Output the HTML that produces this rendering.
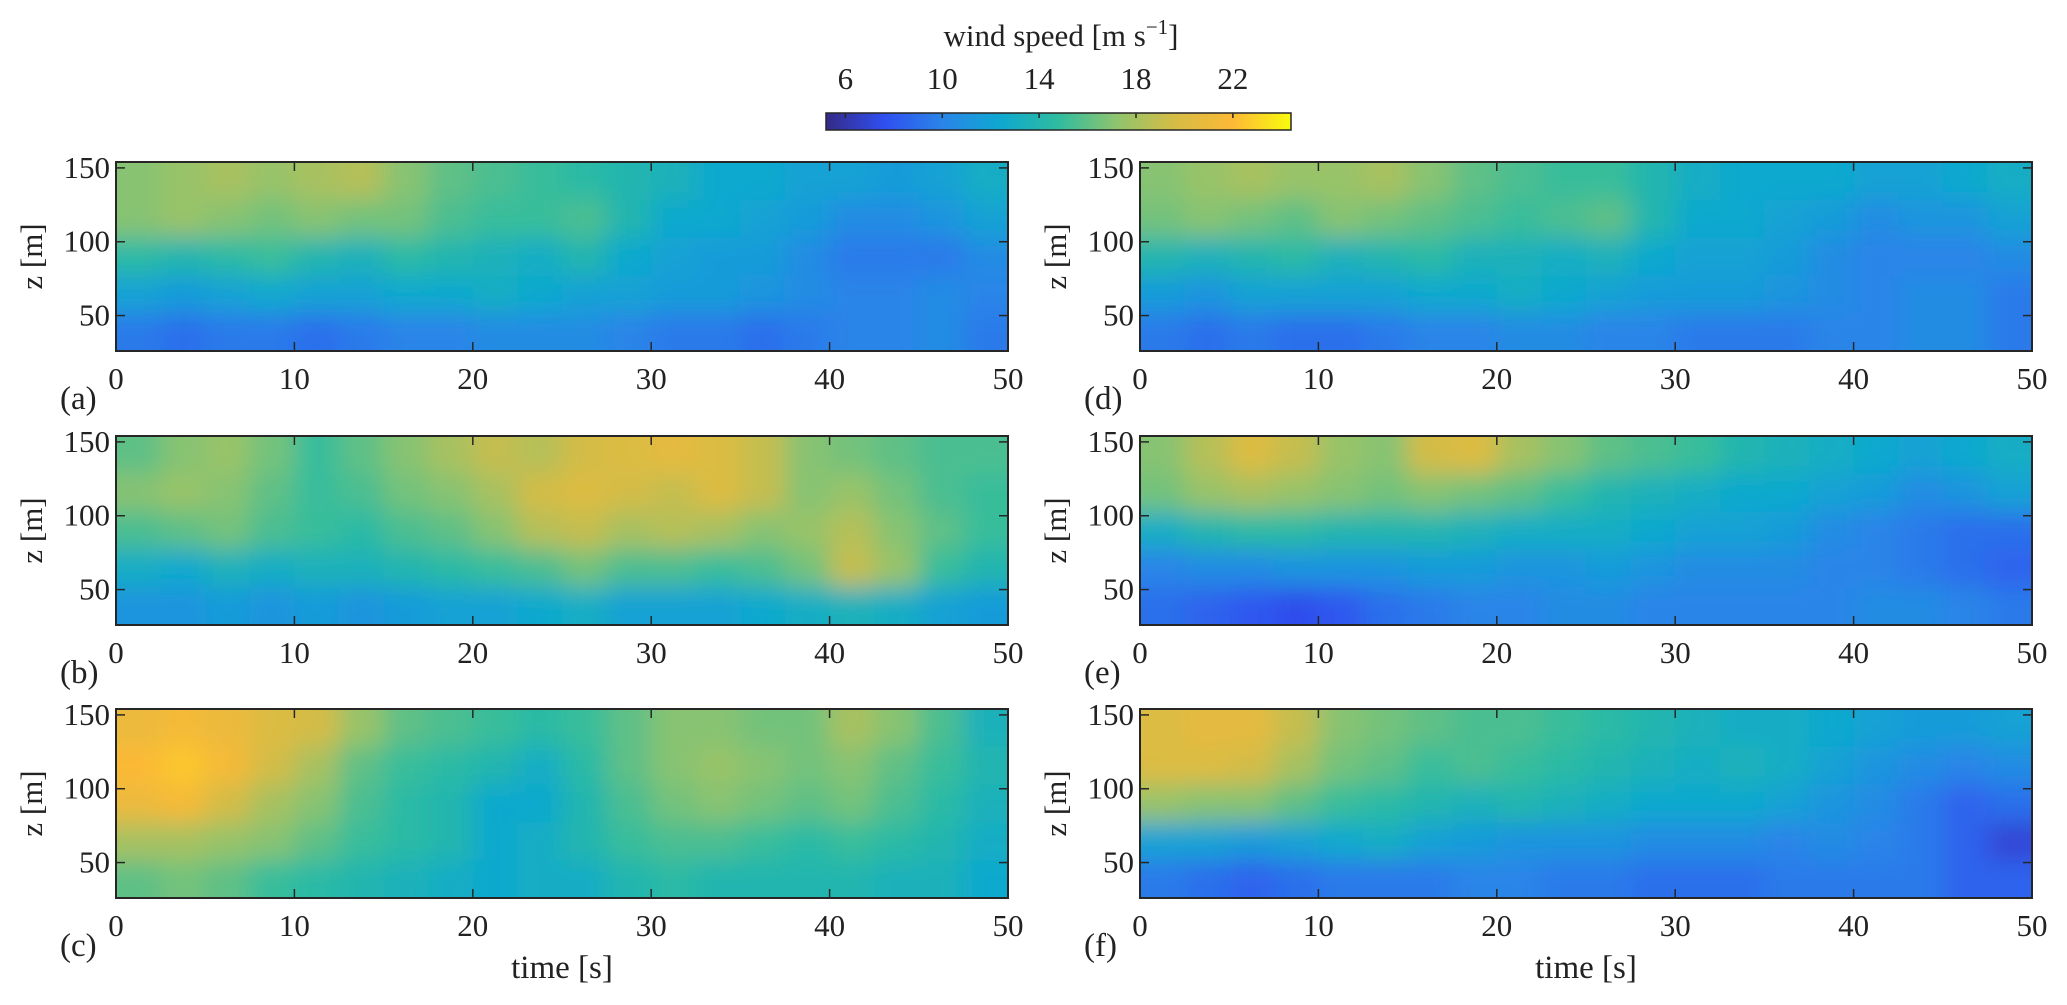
<!DOCTYPE html>
<html><head><meta charset="utf-8"><style>
html,body{margin:0;padding:0;background:#fff;}
svg text{font-family:"Liberation Serif",serif;fill:#222;}
</style></head><body>
<svg id="fig" width="2067" height="1000" viewBox="0 0 2067 1000" xmlns="http://www.w3.org/2000/svg">
<defs>
<filter id="blur" x="-5%" y="-20%" width="110%" height="140%"><feGaussianBlur stdDeviation="12"/></filter>
<linearGradient id="parula" x1="0" x2="1" y1="0" y2="0">
<stop offset="0" stop-color="#352a87"/><stop offset="0.125" stop-color="#2f4ff0"/><stop offset="0.25" stop-color="#2a85e8"/><stop offset="0.375" stop-color="#0ea8d0"/><stop offset="0.5" stop-color="#2fbc9f"/><stop offset="0.625" stop-color="#8fc46e"/><stop offset="0.75" stop-color="#d6bc45"/><stop offset="0.875" stop-color="#fcb936"/><stop offset="1" stop-color="#f9fb0e"/>
</linearGradient>
</defs>
<g id="cbar"></g>
<g id="panels"></g>
</svg>
<script>
const xTicks=[0,10,20,30,40,50];
const zTicks=[50,100,150];
const cbTicks=[6,10,14,18,22];
const cMin=5.2, cMax=24.4;
const zMin=26, zMax=154;
const tMax=50;
const panelA=[[17,17.5,18,17.5,18,18.5,17,16,15.5,15,14.5,14,13.5,12.5,12.5,12,12,11.5,12,13],[17,17.5,17,16.5,17,16.5,16.5,15.5,15,15,15.5,14,12.5,12.5,12,11.5,10.5,10.5,11,12],[14.5,14,14.5,15,14,13.5,14.5,14,13.5,13,14,12.5,12,11.5,11.5,10.5,9.5,9.5,9.5,10.5],[12,11.5,12,12.5,12,12,12.5,12.5,13,12.5,12,12,11.5,11.5,11,10.5,10,10,10.5,10],[9.5,9,9.5,9.5,9,9.5,10,10,10.5,10.5,10.5,10,9.5,9.5,9,9.5,10,10,10.5,9.5]];
const panelB=[[16,17,17.5,16.5,15,16,17,18,19,18.5,19.5,20,20.5,20,19,17,16.5,16,15.5,15.5],[17,17.5,17,16,15,15.5,16.5,17,18,19.5,20,19.5,19,20,19,17,17.5,16.5,15.5,15],[15.5,16,16.5,15.5,15,14.5,15.5,16,17,18.5,19,18,18.5,18,17,17.5,18.5,17,16,15],[13,12.5,13.5,13,13.5,13.5,14,14.5,15,15.5,16.5,15.5,15.5,15,15.5,16.5,19,17.5,15,14],[11,11,11.5,11,11.5,11,11.5,12,12,12.5,13,12,12,12,12.5,13,13.5,13,12,11.5]];
const panelC=[[21,21.5,21,20,19.5,17.5,16,15.5,15,14.5,15,16,17,17,16.5,16.5,18,17,15.5,13.5],[22,22.5,21.5,19.5,18,16,15,14.5,14,13,14.5,16,17,17.5,17,16.5,17,16,15,14],[21,21.5,19.5,18,17,15.5,14.5,14,12.5,12.5,14,15.5,16.5,17,16.5,16,16.5,15.5,14.5,13.5],[18,18,17.5,17,16,15,14.5,14,12.5,13,14,15,15.5,15.5,15,14.5,15,14.5,14,13],[16,16.5,16,15,14.5,14,13.5,13,12.5,13,13,14,14.5,14,14,14,14,13.5,13.5,12.5]];
const panelD=[[17,17.5,18,17.5,17.5,18,17,16,15.5,15,15,14,13,12.5,12.5,12.5,12,12,12.5,13],[16.5,17,16.5,16,17,16.5,16,15.5,15,15.5,16,14,12.5,12.5,12,11.5,10.5,11,11,12],[14,13.5,14,14.5,13.5,14,14.5,13.5,13.5,13,13.5,12.5,12,12,11.5,10.5,10,10,10,10.5],[11.5,11,12,12,12,12,12.5,12.5,13,12.5,12,11.5,11.5,11.5,11,10.5,10,10.5,10.5,9.5],[9.5,9,9.5,9,9,9.5,10,10,10.5,10.5,10,10,9.5,9.5,9.5,10,10,10.5,10.5,9.5]];
const panelE=[[17,18.5,20,19,17.5,17,19.5,20,18,17,16,15.5,15,14,13.5,13,12.5,12,12.5,13],[16.5,17.5,18,17.5,17,16.5,17,16.5,16,15,14,13.5,13,12.5,12.5,12,11.5,10.5,11,12],[13,14,14.5,14.5,14,14,14,13.5,13,13,13,12.5,12,12,11.5,10.5,10,9.5,9,9],[10,10.5,10.5,11,11,11,11.5,11.5,11,11,11.5,11,10.5,10.5,10.5,10,10,9.5,9,8.5],[9,8.5,8,7.5,8,9,9.5,10,10,10.5,10.5,10,10,10,10,10,10.5,10.5,10,9.5]];
const panelF=[[20,20.5,20.5,19,17,16.5,16,15.5,15.5,15,14.5,14,13.5,13,13,12.5,12,11.5,11.5,12],[20,20,19.5,18,16.5,16,15,15.5,15,14.5,14,13.5,13,13.5,13,12,11,10.5,10,10.5],[17.5,17,17,16,15,14.5,14,13.5,14,13.5,13,12.5,12.5,12.5,12,11,10.5,9.5,8.5,9],[12,12,11.5,12,12.5,13,12,11.5,11,11,11,10.5,10.5,10.5,10,10.5,10,9.5,8.5,7],[9.5,9,8.5,9,9.5,9.5,9.5,10,10,9.5,9.5,9,9,9,9.5,9.5,9.5,9.5,8.5,8.5]];

const NS="http://www.w3.org/2000/svg";
const stops=[[0,[53,42,135]],[0.125,[47,79,240]],[0.25,[42,133,232]],[0.375,[14,168,208]],[0.5,[47,188,159]],[0.625,[143,196,110]],[0.75,[214,188,69]],[0.875,[252,185,54]],[1,[249,251,14]]];
function cmap(v){let f=(v-cMin)/(cMax-cMin);f=Math.max(0,Math.min(1,f));
 for(let i=0;i<stops.length-1;i++){if(f<=stops[i+1][0]){const a=stops[i],b=stops[i+1];const t=(f-a[0])/(b[0]-a[0]);
 const c=a[1].map((x,k)=>Math.round(x+(b[1][k]-x)*t));return `rgb(${c[0]},${c[1]},${c[2]})`;}}return 'rgb(249,251,14)';}
function mk(tag,attrs,parent){const e=document.createElementNS(NS,tag);for(const k in attrs)e.setAttribute(k,attrs[k]);if(parent)parent.appendChild(e);return e;}

const panels=[
 {id:'a',data:panelA,x0:116,y0:162,showX:false},
 {id:'b',data:panelB,x0:116,y0:436,showX:false},
 {id:'c',data:panelC,x0:116,y0:709,showX:true},
 {id:'d',data:panelD,x0:1140,y0:162,showX:false},
 {id:'e',data:panelE,x0:1140,y0:436,showX:false},
 {id:'f',data:panelF,x0:1140,y0:709,showX:true}];
const W=892,H=189;
const root=document.getElementById('panels');
panels.forEach(p=>{
 const g=mk('g',{},root);
 
 
 const xs=t=>p.x0+t/tMax*W;
 const zs=z=>p.y0+H-(z-zMin)/(zMax-zMin)*H;
 const cp=mk('clipPath',{id:'clip'+p.id},g);mk('rect',{x:p.x0,y:p.y0,width:W,height:H},cp);
 const hm=mk('g',{'clip-path':'url(#clip'+p.id+')'},g);
 
 
 const bl=mk('g',{filter:'url(#blur)'},hm);
 const rows=p.data.length,cols=p.data[0].length;
 const dz=(zMax-zMin)/rows,dt=tMax/cols;
 p.data.forEach((row,r)=>row.forEach((v,c)=>{
  let xa=xs(c*dt),xb=xs((c+1)*dt),ya=zs(zMax-r*dz),yb=zs(zMax-(r+1)*dz);
  if(c==0)xa-=40;if(c==cols-1)xb+=40;if(r==0)ya-=40;if(r==rows-1)yb+=40;
  const cell=mk('rect',{x:xa,y:ya,width:xb-xa+1,height:yb-ya+1,fill:cmap(v)},bl);
  
  
 }));
 const fr=mk('rect',{x:p.x0,y:p.y0,width:W,height:H,fill:'none',stroke:'#262626','stroke-width':2},g);
 
 
 xTicks.forEach(t=>{const x=xs(t);
  mk('line',{x1:x,x2:x,y1:p.y0+H,y2:p.y0+H-9,stroke:'#262626','stroke-width':1.5},g);
  mk('line',{x1:x,x2:x,y1:p.y0,y2:p.y0+9,stroke:'#262626','stroke-width':1.5},g);
  const tx=mk('text',{x:x,y:p.y0+H+38,'font-size':31,'text-anchor':'middle'},g);tx.textContent=t;
  
  
 });
 zTicks.forEach(z=>{const y=zs(z);
  mk('line',{x1:p.x0,x2:p.x0+9,y1:y,y2:y,stroke:'#262626','stroke-width':1.5},g);
  mk('line',{x1:p.x0+W,x2:p.x0+W-9,y1:y,y2:y,stroke:'#262626','stroke-width':1.5},g);
  const tx=mk('text',{x:p.x0-6,y:y+10,'font-size':31,'text-anchor':'end'},g);tx.textContent=z;
  
  
 });
 const yl=mk('text',{x:0,y:0,'font-size':31,'text-anchor':'middle',transform:`translate(${p.x0-74},${p.y0+H/2}) rotate(-90)`},g);yl.textContent='z [m]';
 
 
 const lab=mk('text',{x:p.x0-56,y:p.y0+H+58,'font-size':33},g);lab.textContent='('+p.id+')';
 
 
 if(p.showX){const xl=mk('text',{x:p.x0+W/2,y:p.y0+H+80,'font-size':33,'text-anchor':'middle'},g);xl.textContent='time [s]';
  
  }
});
// colorbar
const cb=document.getElementById('cbar');
const cbX0=826,cbX1=1291,cbY0=113,cbY1=130;
const cs=v=>cbX0+(v-cMin)/(cMax-cMin)*(cbX1-cbX0);
const bar=mk('rect',{x:cbX0,y:cbY0,width:cbX1-cbX0,height:cbY1-cbY0,fill:'url(#parula)',stroke:'#262626','stroke-width':1.5},cb);


cbTicks.forEach(v=>{const x=cs(v);
 mk('line',{x1:x,x2:x,y1:cbY0,y2:cbY0+5,stroke:'#262626','stroke-width':1.5},cb);
 const t=mk('text',{x:x,y:89,'font-size':31,'text-anchor':'middle'},cb);t.textContent=v;
 
 
});
const ct=mk('text',{x:1061,y:46,'font-size':31,'text-anchor':'middle'},cb);
ct.innerHTML='wind speed [m s<tspan dy="-12" font-size="21">−1</tspan><tspan dy="12">]</tspan>';


</script>
</body></html>
